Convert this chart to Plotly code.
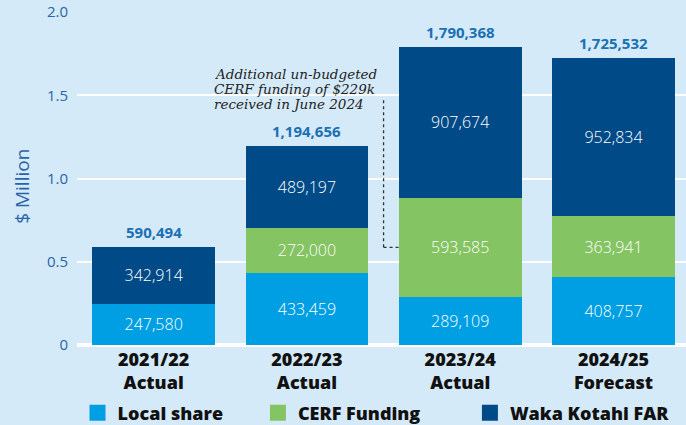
import plotly.graph_objects as go

# Funding by financial year
years = ["2021/22<br>Actual", "2022/23<br>Actual", "2023/24<br>Actual", "2024/25<br>Forecast"]
local_share = [247580, 433459, 289109, 408757]
cerf_funding = [0, 272000, 593585, 363941]
waka_kotahi_far = [342914, 489197, 907674, 952834]
totals = [590494, 1194656, 1790368, 1725532]

y_ticks = [0, 0.5, 1.0, 1.5, 2.0]
y_tick_text = ["0", "0.5", "1.0", "1.5", "2.0"]

note_lines = ["Additional un-budgeted", "CERF funding of $229k", "received in June 2024"]

C_LOCAL = "#009fe3"
C_CERF = "#84c462"
C_FAR = "#004a87"
C_BG = "#d5eaf8"
C_AXIS_TEXT = "#2a64a8"
C_TOTAL = "#1b70b4"

BAR_WIDTH = 0.8
HEAVY = "Open Sans"


def millions(vals):
    return [v / 1e6 for v in vals]


def labels(vals):
    return [f"{v:,}" if v else "" for v in vals]


fig = go.Figure()

series = [
    ("Local share", local_share, C_LOCAL, "legend"),
    ("CERF Funding", cerf_funding, C_CERF, "legend2"),
    ("Waka Kotahi FAR", waka_kotahi_far, C_FAR, "legend3"),
]
for name, vals, color, leg in series:
    fig.add_trace(go.Bar(
        x=list(range(len(years))),
        y=millions(vals),
        name=name,
        marker=dict(color=color, line=dict(width=0)),
        width=BAR_WIDTH,
        text=labels(vals),
        textposition="inside",
        insidetextanchor="middle",
        textangle=0,
        constraintext="none",
        textfont=dict(family="Open Sans", size=16, color="white", weight=300),
        showlegend=False,
        hoverinfo="skip",
    ))
    # square legend key for the series
    fig.add_trace(go.Scatter(
        x=[None], y=[None], mode="markers", name=name,
        marker=dict(symbol="square", size=16, color=color),
        legend=leg, showlegend=True, hoverinfo="skip",
    ))

# Totals above each stack
for i, t in enumerate(totals):
    fig.add_annotation(
        x=i, y=t / 1e6, text=f"<b>{t:,}</b>", showarrow=False,
        yanchor="bottom", yshift=3,
        font=dict(family="Open Sans", size=15, color=C_TOTAL, weight=800),
    )

# Note about the extra CERF funding in 2023/24
note_x = 1.5 - 1.12
for k, line in enumerate(note_lines):
    fig.add_annotation(
        x=note_x, y=1.628 - k * 0.09, text=line, showarrow=False,
        xanchor="left", yanchor="middle",
        font=dict(family="DejaVu Serif", size=13.5, color="#222222", style="italic"),
    )

cerf_mid = (local_share[2] + cerf_funding[2] / 2) / 1e6
bar3_left = 2 - BAR_WIDTH / 2
fig.add_shape(type="line", x0=1.5, x1=1.5, y0=1.47, y1=cerf_mid,
              line=dict(color="#333333", width=1.3, dash="3px,3px"))
fig.add_shape(type="line", x0=1.5, x1=bar3_left, y0=cerf_mid, y1=cerf_mid,
              line=dict(color="#333333", width=1.3, dash="3px,3px"))

# Axis title
fig.add_annotation(
    xref="paper", yref="y", x=0, y=0.95, xshift=-55,
    text="$ Million", textangle=-90, showarrow=False,
    xanchor="center", yanchor="middle",
    font=dict(family="Open Sans", size=19, color=C_AXIS_TEXT),
)

legend_font = dict(family=HEAVY, size=18, color="#111111", weight=800)
legend_common = dict(orientation="h", xref="container", yref="container",
                     yanchor="middle", y=0.028, font=legend_font,
                     bgcolor="rgba(0,0,0,0)", itemclick=False)

fig.update_layout(
    width=686, height=425,
    margin=dict(l=77, r=0, t=12, b=80),
    paper_bgcolor=C_BG, plot_bgcolor=C_BG,
    barmode="stack",
    showlegend=True,
    legend=dict(x=0.113, **legend_common),
    legend2=dict(x=0.376, **legend_common),
    legend3=dict(x=0.685, **legend_common),
    xaxis=dict(
        range=[-0.5, 3.473],
        tickmode="array", tickvals=list(range(len(years))), ticktext=years,
        tickfont=dict(family=HEAVY, size=18, color="#111111", weight=800),
        showgrid=False, zeroline=False, showline=False, ticks="",
        ticklabelstandoff=2,
    ),
    yaxis=dict(
        range=[0, 2.0],
        tickmode="array", tickvals=y_ticks, ticktext=y_tick_text,
        tickfont=dict(family="Open Sans", size=15, color=C_AXIS_TEXT),
        showgrid=True, gridcolor="white", gridwidth=2,
        zeroline=True, zerolinecolor="white", zerolinewidth=4,
        showline=False, ticks="", ticklabelstandoff=8,
    ),
)

fig.write_html("out.html")
